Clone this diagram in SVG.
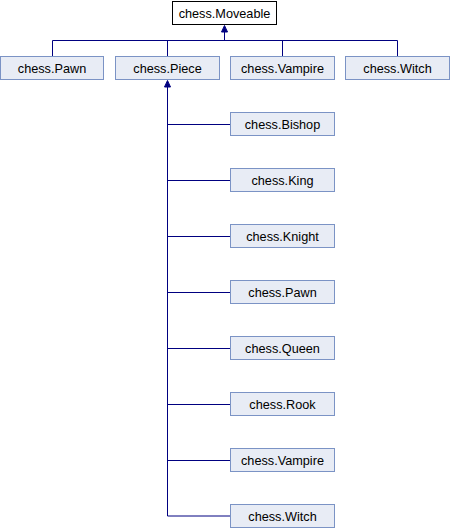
<svg xmlns="http://www.w3.org/2000/svg" width="450" height="528" viewBox="0 0 450 528">
<style>
.n rect{fill:#e8ecf5;stroke:#7b93c5;stroke-width:1}
.root rect{fill:#ffffff;stroke:#000000;stroke-width:1}
text{font-family:"Liberation Sans",Arial,sans-serif;font-size:12.7px;fill:#000000;text-anchor:middle}
.e{fill:none;stroke:#000080;stroke-width:1}
.ah{fill:#000080;stroke:#000080;stroke-width:1}
</style>
<rect width="450" height="528" fill="#ffffff"/>
<g id="connectors">
<path class="e" d="M52.5,56.5V40.5H397.5V56.5M167.5,40.5V56.5M282.5,40.5V56.5M224.5,40.5V31"/>
<polygon class="ah" points="224.5,25.5 221.5,32 227.5,32"/>
<path class="e" d="M167.5,87V516H230.5M167.5,124.5H230.5M167.5,180.5H230.5M167.5,236.5H230.5M167.5,292.5H230.5M167.5,348.5H230.5M167.5,404.5H230.5M167.5,460.5H230.5"/>
<polygon class="ah" points="167.5,80.5 164.5,87 170.5,87"/>
</g>
<g id="moveable" class="root"><rect x="172.5" y="1.5" width="104" height="23"/><text x="224.5" y="17.5">chess.Moveable</text></g>
<g id="pawn_top" class="n"><rect x="0.5" y="56.5" width="103" height="23"/><text x="52" y="72.5">chess.Pawn</text></g>
<g id="piece" class="n"><rect x="115.5" y="56.5" width="104" height="23"/><text x="167.5" y="72.5">chess.Piece</text></g>
<g id="vampire_top" class="n"><rect x="230.5" y="56.5" width="104" height="23"/><text x="282.5" y="72.5">chess.Vampire</text></g>
<g id="witch_top" class="n"><rect x="345.5" y="56.5" width="104" height="23"/><text x="397.5" y="72.5">chess.Witch</text></g>
<g id="bishop" class="n"><rect x="230.5" y="112.5" width="104" height="23"/><text x="282.5" y="128.5">chess.Bishop</text></g>
<g id="king" class="n"><rect x="230.5" y="168.5" width="104" height="23"/><text x="282.5" y="184.5">chess.King</text></g>
<g id="knight" class="n"><rect x="230.5" y="224.5" width="104" height="23"/><text x="282.5" y="240.5">chess.Knight</text></g>
<g id="pawn" class="n"><rect x="230.5" y="280.5" width="104" height="23"/><text x="282.5" y="296.5">chess.Pawn</text></g>
<g id="queen" class="n"><rect x="230.5" y="336.5" width="104" height="23"/><text x="282.5" y="352.5">chess.Queen</text></g>
<g id="rook" class="n"><rect x="230.5" y="392.5" width="104" height="23"/><text x="282.5" y="408.5">chess.Rook</text></g>
<g id="vampire" class="n"><rect x="230.5" y="448.5" width="104" height="23"/><text x="282.5" y="464.5">chess.Vampire</text></g>
<g id="witch" class="n"><rect x="230.5" y="504.5" width="104" height="23"/><text x="282.5" y="520.5">chess.Witch</text></g>
</svg>
